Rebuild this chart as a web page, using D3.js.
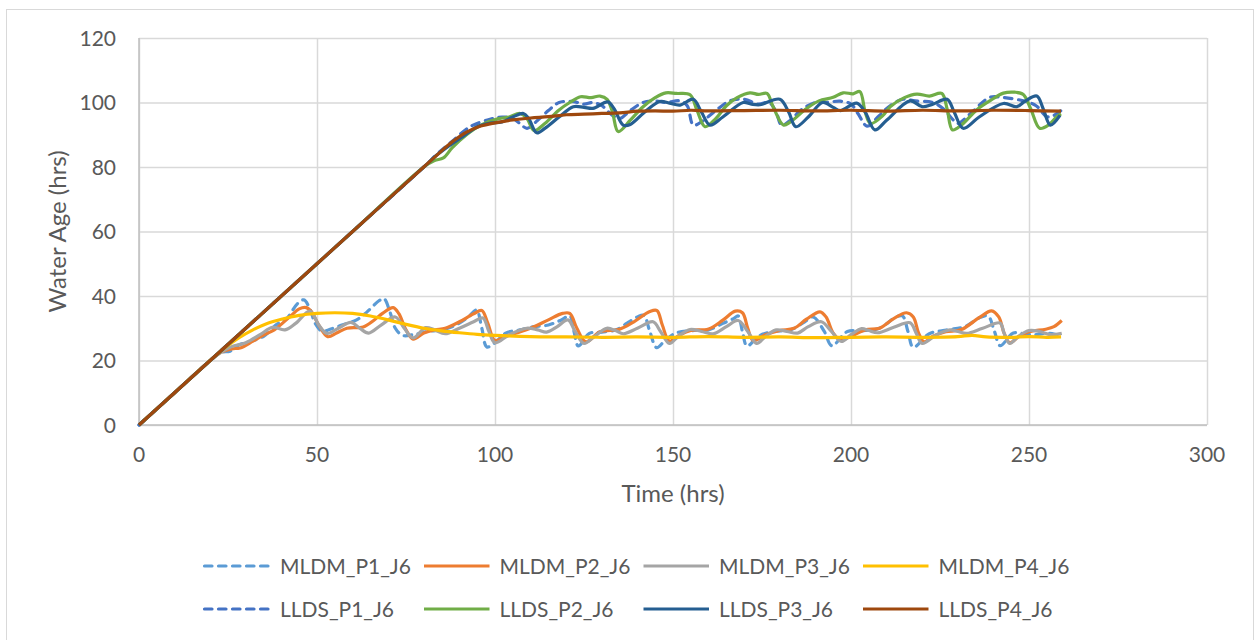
<!DOCTYPE html>
<html>
<head>
<meta charset="utf-8">
<script src="https://cdn.jsdelivr.net/npm/d3@7"></script>
<style>
  body { margin: 0; background: #fff; }
  text { font-family: Lato, "Open Sans", sans-serif; fill: #595959; }
</style>
</head>
<body>
<div id="plot1"></div>
<script>
// series values: [time (hrs), water age (hrs)]
var mldmP1 = [[0,0],[10,10],[20,20],[23,22.5],[25.6,22.9],[28,24.8],[31,25.8],[35,27.5],[38.7,31.2],[41.5,33],[44.4,37.5],[46.3,38.8],[48,36],[49.5,31.5],[51.5,29],[53.5,29.6],[57,31],[61,32.5],[64,35],[67.5,38.6],[68.8,39.2],[70.5,35],[72,30],[74,27.8],[77,28],[81,29],[85,29.5],[89,31],[92.5,33.5],[94.8,35.6],[96.3,30],[97.7,24.2],[100,25.5],[103,28.5],[107,29.5],[111,30.5],[115,31],[118.5,32.5],[121,33.8],[122.2,29],[123.4,24.5],[126.5,28.4],[130,28.8],[134,29.5],[137,31.5],[140,33.5],[141.8,34],[143.5,29],[145.4,24],[148,26.5],[151,28.6],[156,29.3],[160,29.5],[164,31.5],[167,33],[168.3,33.8],[169.5,29],[170.8,24.5],[174,27.5],[178,29],[183,29.5],[187,32],[189.4,33.5],[192.5,29],[194.6,24.6],[199,29],[203,29.2],[208,30],[212.8,33.6],[214.5,33.8],[216,29],[217.5,24.1],[222,28.3],[227,29.5],[232,30.5],[236.2,33.3],[238.5,33.8],[240.3,29],[241.9,24.6],[245.6,28.5],[249,28.2],[252,28],[255,28.5],[258,28],[259,27.8]];
var mldmP2 = [[0,0],[10,10],[20,20],[23,22.5],[26,23.6],[28.4,23.9],[32,26],[35,27.9],[38,29.5],[42.4,33.6],[45,36],[47,36.4],[48.5,35],[50.5,31],[53,27.4],[55.5,28.5],[58.4,30],[63,30.4],[66,32.5],[68.5,34.7],[71.4,36.4],[73,34.5],[75,29.5],[77,26.6],[80,28.5],[83,29.5],[86,30],[90,32],[94,34.5],[96.3,35.5],[98,31.5],[100,26.2],[103,27.5],[106,28.5],[110,30],[115,32.6],[119,34.6],[121,34.6],[123,30],[125.5,25.8],[129.5,28.9],[135,29.7],[139,32],[143.5,35.2],[145.5,35.5],[147,31],[149,26],[152,28],[155,29.3],[160,29.8],[164,32.5],[167.5,35.3],[169.5,34.8],[171,30],[172.5,26.2],[176,28],[180,29.3],[184,30],[187.5,32.8],[191.3,35.1],[193,33.5],[195,28.5],[197,26.4],[200,27.5],[204,29.5],[208,30],[212,33],[215.6,34.8],[217.5,33.5],[219,28.5],[220.5,25.8],[223,27.5],[226.6,28.9],[231,29.6],[236,33.3],[239.5,35.4],[241.5,33.5],[243,28.5],[244.6,25.5],[247,27.3],[250,28.9],[254.7,29.7],[257,30.5],[259.2,32.4]];
var mldmP3 = [[0,0],[10,10],[20,20],[23,22.5],[26,24.3],[30,25.5],[34,28],[37.5,30.3],[41,29.5],[44,31.5],[48,35.3],[50.5,31],[52.8,28.4],[56,30],[59.5,31.8],[62,30],[64.5,28.5],[68,31],[72,33.5],[74.5,30],[77,27],[80.5,30.2],[83,29.5],[86,28.3],[90,30],[94,32],[96.6,33.2],[98.3,29],[100,25.5],[104,28],[108.9,30],[112,29.5],[114.5,28.8],[117.5,30.5],[120.5,32.6],[122.5,29],[125,25.3],[128,27.5],[131.4,30],[134,29.2],[136,28.3],[140,30],[144.4,32],[146.5,29],[149,25.3],[151.5,27.5],[154.8,29.6],[158,29],[161.3,28.3],[165,30.5],[168.3,32.4],[171,29],[173.5,25.3],[176,27.5],[179,29.5],[182,29],[185,28.5],[188,30.5],[191.7,32],[194.5,29],[197.3,25.9],[200,28],[203,29.9],[205,29.3],[207.5,28.6],[212,30.3],[216.6,31.7],[218.3,28.5],[220,25.3],[224,28],[227.8,29.5],[230,29],[232.5,28.4],[237,30],[241.9,31.6],[243,28.5],[244.6,25.3],[247,27.5],[250,29.3],[253,29],[256,28],[259.2,28.4]];
var mldmP4 = [[0,0],[10,10],[20,20],[24,23.8],[28,27],[32,29.5],[36,31.5],[40,32.8],[45,34],[50,34.6],[55,34.8],[60,34.6],[65,33.8],[70,32.6],[75,31.2],[80,30],[85,29.2],[90,28.6],[95,28.1],[100,27.8],[110,27.4],[120,27.3],[130,27.2],[140,27.3],[150,27.2],[160,27.4],[170,27.2],[180,27.3],[190,27.1],[200,27.2],[210,27.3],[220,27.2],[230,27.4],[234,27.8],[238,27.3],[245,27.2],[250,27.4],[255,27.2],[259,27.3]];
var lldsP1 = [[0,0],[20,20],[40,40],[60,60],[80,80],[84,84.3],[88,88],[93,92.5],[98.6,94.8],[102,95.5],[105,95],[107,93.5],[109,92],[112,94.5],[115,97.5],[118,100],[122,100.3],[125,99.5],[127.5,100],[130,99],[133,96],[135,95],[138,97.5],[141.6,100],[145,100.5],[148,100],[152,100.5],[154,99],[155.7,93],[158,94],[162,97.5],[166,100.5],[170,101],[174,99.5],[177,100],[179,97],[180.5,93],[183,94.5],[186,97.7],[190,100],[193,100],[197,100.4],[200,99.5],[202,96.5],[204.5,92.7],[208,96],[211,99],[214.6,101],[218,100.5],[223,100],[226,98],[228.7,94.6],[230,93.5],[234,97],[239,101.6],[243,101.5],[248.4,100.5],[252,99],[255,95.6],[257,96],[259,97.5]];
var lldsP2 = [[0,0],[20,20],[40,40],[60,60],[80,80],[83,82],[85.5,82.8],[88,86],[92,90],[96,93],[101,95],[104,95.5],[107,96.6],[109,95],[111,91.3],[114,93.5],[118,97.7],[121,100],[124,101.8],[127,101.5],[129.5,102],[131.5,101],[133,97],[134.6,91],[138,94.5],[141.6,98.7],[145,101.5],[148,103],[151,102.8],[154.8,102.4],[156.7,97.7],[159,92.5],[162,95],[165,99],[168,101.5],[171.6,103],[174,102.5],[176.4,102.8],[178,99],[181,93],[183,94],[187.6,98.2],[191,100.5],[195,101.6],[197.8,103],[200.6,102.7],[202.5,103.4],[204,97],[205.5,93.5],[209,96],[211,98.7],[215,101.5],[218.5,102.6],[222,102],[225.5,102.8],[227,98],[228.5,91.5],[231,93],[235.3,97.7],[239,100.5],[242.8,102.9],[246,103.2],[248.4,102.5],[250.5,98],[253,92],[255.5,93],[257.8,95.6],[259,96.5]];
var lldsP3 = [[0,0],[20,20],[40,40],[60,60],[80,80],[84,84],[87,86.5],[91,89.5],[95,92.5],[98.6,93.6],[102,94],[105,95.5],[108,96.6],[109.5,95],[111.7,90.6],[114,92],[118,95.5],[122,98.7],[125,98.5],[127.5,98.2],[131.7,100.2],[133.5,98],[136,93],[138,93.2],[142,97],[146.3,100.3],[149,99.8],[152,99.2],[155.7,101],[158,97],[160.4,93],[164,95.5],[169.7,100],[172,99.5],[174.4,99.3],[180,101],[182.5,97],[184.5,92.5],[188,95.5],[192,100],[195,98.5],[197,97.5],[201.6,99.8],[204,97],[206.7,91.5],[210,94.5],[216.6,100.5],[220,98.7],[223,99.5],[227,101],[229,97],[231.5,92],[236,95.5],[242.8,99.7],[246.6,98.7],[249,100.5],[252.2,102],[254,98],[256,93],[258.7,96]];
var lldsP4 = [[0,0],[20,20],[40,40],[60,60],[80,80],[84,84],[88,87.8],[92,90.8],[96,92.7],[100,93.7],[105,94.6],[110,95.2],[115,95.6],[120,96.2],[125,96.4],[130,96.6],[135,96.8],[140,97.3],[145,97.4],[150,97.3],[155,97.6],[160,97.4],[170,97.5],[180,97.6],[190,97.4],[200,97.6],[210,97.3],[220,97.6],[230,97.4],[240,97.6],[250,97.5],[259,97.3]];

var seriesNames = ["MLDM_P1_J6", "MLDM_P2_J6", "MLDM_P3_J6", "MLDM_P4_J6",
                   "LLDS_P1_J6", "LLDS_P2_J6", "LLDS_P3_J6", "LLDS_P4_J6"];
var seriesValues = [mldmP1, mldmP2, mldmP3, mldmP4, lldsP1, lldsP2, lldsP3, lldsP4];
var seriesColors = ["#5B9BD5", "#ED7D31", "#A5A5A5", "#FFC000",
                    "#4472C4", "#70AD47", "#255E91", "#9E480E"];
var seriesDashed = [true, false, false, false, true, false, false, false];

var xTicks = [0, 50, 100, 150, 200, 250, 300];
var yTicks = [0, 20, 40, 60, 80, 100, 120];

var width = 1259, height = 640;
var plot = {left: 139, right: 1207, top: 38, bottom: 425};

var svg = d3.select("#plot1")
    .append("svg")
    .attr("width", width)
    .attr("height", height);

// chart border
svg.append("rect")
    .attr("x", 6.5).attr("y", 9.5)
    .attr("width", 1247).attr("height", 640)
    .attr("fill", "none")
    .attr("stroke", "#D9D9D9");

var x = d3.scaleLinear().domain([0, 300]).range([plot.left, plot.right]);
var y = d3.scaleLinear().domain([0, 120]).range([plot.bottom, plot.top]);

// gridlines
svg.append("g")
    .attr("transform", `translate(0, ${plot.bottom})`)
    .call(d3.axisBottom(x).tickValues(xTicks).tickSize(-(plot.bottom - plot.top)).tickFormat(""))
    .call(g => g.select(".domain").remove())
    .selectAll("line").attr("stroke", "#D9D9D9").attr("stroke-width", 1.5);
svg.append("g")
    .attr("transform", `translate(${plot.left}, 0)`)
    .call(d3.axisLeft(y).tickValues(yTicks).tickSize(-(plot.right - plot.left)).tickFormat(""))
    .call(g => g.select(".domain").remove())
    .selectAll("line").attr("stroke", "#D9D9D9").attr("stroke-width", 1.5);

// axis lines
svg.append("line")
    .attr("x1", plot.left).attr("x2", plot.right)
    .attr("y1", y(0)).attr("y2", y(0))
    .attr("stroke", "#BFBFBF").attr("stroke-width", 1.5);
svg.append("line")
    .attr("x1", x(0)).attr("x2", x(0))
    .attr("y1", plot.top).attr("y2", plot.bottom)
    .attr("stroke", "#BFBFBF").attr("stroke-width", 1.5);

// tick labels
svg.append("g").selectAll("text").data(xTicks).enter()
    .append("text")
    .attr("x", d => x(d))
    .attr("y", plot.bottom + 37)
    .style("text-anchor", "middle")
    .style("font-size", "21px")
    .text(d => d);
svg.append("g").selectAll("text").data(yTicks).enter()
    .append("text")
    .attr("x", 116)
    .attr("y", d => y(d) + 7.5)
    .style("text-anchor", "end")
    .style("font-size", "21px")
    .text(d => d);

// axis titles
svg.append("text")
    .attr("transform", `translate(${x(150)}, 502)`)
    .style("text-anchor", "middle")
    .style("font-size", "24px")
    .text("Time (hrs)");
svg.append("text")
    .attr("transform", `translate(66, ${(plot.top + plot.bottom) / 2}) rotate(-90)`)
    .style("text-anchor", "middle")
    .style("font-size", "24px")
    .text("Water Age (hrs)");

// lines
var line = d3.line()
    .x(d => x(d[0]))
    .y(d => y(d[1]))
    .curve(d3.curveCatmullRom.alpha(0.5));

svg.append("g").selectAll("path").data(seriesValues).enter()
    .append("path")
    .attr("d", d => line(d))
    .attr("fill", "none")
    .attr("stroke", (d, i) => seriesColors[i])
    .attr("stroke-width", 3.2)
    .attr("stroke-linejoin", "round")
    .attr("stroke-linecap", (d, i) => seriesDashed[i] ? "round" : "butt")
    .attr("stroke-dasharray", (d, i) => seriesDashed[i] ? "7.5,6.5" : null);

// legend, two rows of four
var legend = svg.append("g").selectAll("g").data(seriesNames).enter()
    .append("g")
    .attr("transform", (d, i) => `translate(${203 + (i % 4) * 219.5}, ${i < 4 ? 566 : 609})`);
legend.append("line")
    .attr("x1", 1.5).attr("x2", 67)
    .attr("stroke", (d, i) => seriesColors[i])
    .attr("stroke-width", 3.2)
    .attr("stroke-linecap", (d, i) => seriesDashed[i] ? "round" : "butt")
    .attr("stroke-dasharray", (d, i) => seriesDashed[i] ? "7.5,6.5" : null);
legend.append("text")
    .attr("x", 77)
    .attr("y", 7.5)
    .style("font-size", "21px")
    .text(d => d);
</script>
</body>
</html>
